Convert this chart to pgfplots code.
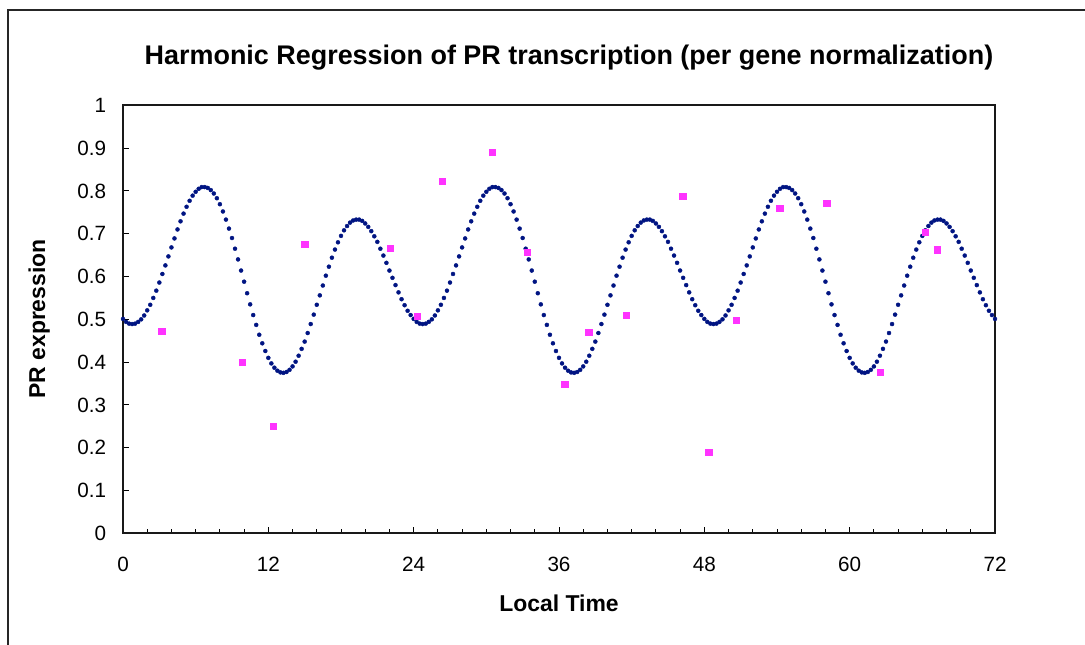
\documentclass[border=0pt]{standalone}
\usepackage{fontspec}
\setmainfont{Liberation Sans}
\usepackage{pgfplots}
\pgfplotsset{compat=1.18}
\definecolor{curveblue}{RGB}{0,20,130}
\definecolor{sqmag}{RGB}{255,51,255}
\begin{document}
\begin{tikzpicture}
\useasboundingbox (0,0) rectangle (813.75pt,483pt);
\draw[line width=0.9pt, black!85] (6pt,-5pt) -- (6pt,475.5pt) -- (820pt,475.5pt);
\begin{axis}[
  at={(92.25pt,83pt)}, anchor=south west,
  scale only axis, width=654pt, height=321pt,
  xmin=0, xmax=72, ymin=0, ymax=1,
  xtick={0,12,24,36,48,60,72},
  minor x tick num=5,
  ytick={0,0.1,0.2,0.3,0.4,0.5,0.6,0.7,0.8,0.9,1},
  yticklabels={0,0.1,0.2,0.3,0.4,0.5,0.6,0.7,0.8,0.9,1},
  tick align=inside, tick pos=left,
  major tick length=4.5pt, minor tick length=3pt,
  tick style={black, line width=0.7pt},
  axis line style={black!90, line width=1.3pt},
  /pgf/number format/assume math mode=true,
  ticklabel style={font=\fontsize{15.5}{18}\selectfont},
  yticklabel style={anchor=east, inner sep=0pt, xshift=-12.5pt},
  xticklabel style={anchor=north, inner sep=0pt, yshift=-17.5pt},
  clip=false,
]
\addplot[only marks, mark=*, mark size=1.5pt, mark options={draw=curveblue, fill=curveblue, line width=0.3pt}] coordinates {
(0,0.501) (0.25,0.494) (0.5,0.490) (0.75,0.489) (1,0.490) (1.25,0.494) (1.5,0.500) (1.75,0.509)
(2,0.521) (2.25,0.534) (2.5,0.550) (2.75,0.567) (3,0.586) (3.25,0.606) (3.5,0.626) (3.75,0.647)
(4,0.668) (4.25,0.689) (4.5,0.710) (4.75,0.729) (5,0.747) (5.25,0.763) (5.5,0.777) (5.75,0.789)
(6,0.798) (6.25,0.805) (6.5,0.809) (6.75,0.809) (7,0.807) (7.25,0.802) (7.5,0.794) (7.75,0.783)
(8,0.769) (8.25,0.752) (8.5,0.733) (8.75,0.712) (9,0.690) (9.25,0.665) (9.5,0.640) (9.75,0.614)
(10,0.588) (10.25,0.561) (10.5,0.535) (10.75,0.510) (11,0.487) (11.25,0.464) (11.5,0.444) (11.75,0.426)
(12,0.410) (12.25,0.397) (12.5,0.387) (12.75,0.380) (13,0.376) (13.25,0.375) (13.5,0.377) (13.75,0.382)
(14,0.390) (14.25,0.401) (14.5,0.415) (14.75,0.431) (15,0.448) (15.25,0.468) (15.5,0.489) (15.75,0.511)
(16,0.534) (16.25,0.556) (16.5,0.579) (16.75,0.602) (17,0.623) (17.25,0.644) (17.5,0.663) (17.75,0.680)
(18,0.695) (18.25,0.708) (18.5,0.718) (18.75,0.726) (19,0.731) (19.25,0.733) (19.5,0.733) (19.75,0.730)
(20,0.724) (20.25,0.716) (20.5,0.706) (20.75,0.694) (21,0.681) (21.25,0.665) (21.5,0.649) (21.75,0.632)
(22,0.614) (22.25,0.597) (22.5,0.580) (22.75,0.563) (23,0.547) (23.25,0.533) (23.5,0.520) (23.75,0.510)
(24,0.501) (24.25,0.494) (24.5,0.490) (24.75,0.489) (25,0.490) (25.25,0.494) (25.5,0.500) (25.75,0.509)
(26,0.521) (26.25,0.534) (26.5,0.550) (26.75,0.567) (27,0.586) (27.25,0.606) (27.5,0.626) (27.75,0.647)
(28,0.668) (28.25,0.689) (28.5,0.710) (28.75,0.729) (29,0.747) (29.25,0.763) (29.5,0.777) (29.75,0.789)
(30,0.798) (30.25,0.805) (30.5,0.809) (30.75,0.809) (31,0.807) (31.25,0.802) (31.5,0.794) (31.75,0.783)
(32,0.769) (32.25,0.752) (32.5,0.733) (32.75,0.712) (33,0.690) (33.25,0.665) (33.5,0.640) (33.75,0.614)
(34,0.588) (34.25,0.561) (34.5,0.535) (34.75,0.510) (35,0.487) (35.25,0.464) (35.5,0.444) (35.75,0.426)
(36,0.410) (36.25,0.397) (36.5,0.387) (36.75,0.380) (37,0.376) (37.25,0.375) (37.5,0.377) (37.75,0.382)
(38,0.390) (38.25,0.401) (38.5,0.415) (38.75,0.431) (39,0.448) (39.25,0.468) (39.5,0.489) (39.75,0.511)
(40,0.534) (40.25,0.556) (40.5,0.579) (40.75,0.602) (41,0.623) (41.25,0.644) (41.5,0.663) (41.75,0.680)
(42,0.695) (42.25,0.708) (42.5,0.718) (42.75,0.726) (43,0.731) (43.25,0.733) (43.5,0.733) (43.75,0.730)
(44,0.724) (44.25,0.716) (44.5,0.706) (44.75,0.694) (45,0.681) (45.25,0.665) (45.5,0.649) (45.75,0.632)
(46,0.614) (46.25,0.597) (46.5,0.580) (46.75,0.563) (47,0.547) (47.25,0.533) (47.5,0.520) (47.75,0.510)
(48,0.501) (48.25,0.494) (48.5,0.490) (48.75,0.489) (49,0.490) (49.25,0.494) (49.5,0.500) (49.75,0.509)
(50,0.521) (50.25,0.534) (50.5,0.550) (50.75,0.567) (51,0.586) (51.25,0.606) (51.5,0.626) (51.75,0.647)
(52,0.668) (52.25,0.689) (52.5,0.710) (52.75,0.729) (53,0.747) (53.25,0.763) (53.5,0.777) (53.75,0.789)
(54,0.798) (54.25,0.805) (54.5,0.809) (54.75,0.809) (55,0.807) (55.25,0.802) (55.5,0.794) (55.75,0.783)
(56,0.769) (56.25,0.752) (56.5,0.733) (56.75,0.712) (57,0.690) (57.25,0.665) (57.5,0.640) (57.75,0.614)
(58,0.588) (58.25,0.561) (58.5,0.535) (58.75,0.510) (59,0.487) (59.25,0.464) (59.5,0.444) (59.75,0.426)
(60,0.410) (60.25,0.397) (60.5,0.387) (60.75,0.380) (61,0.376) (61.25,0.375) (61.5,0.377) (61.75,0.382)
(62,0.390) (62.25,0.401) (62.5,0.415) (62.75,0.431) (63,0.448) (63.25,0.468) (63.5,0.489) (63.75,0.511)
(64,0.534) (64.25,0.556) (64.5,0.579) (64.75,0.602) (65,0.623) (65.25,0.644) (65.5,0.663) (65.75,0.680)
(66,0.695) (66.25,0.708) (66.5,0.718) (66.75,0.726) (67,0.731) (67.25,0.733) (67.5,0.733) (67.75,0.730)
(68,0.724) (68.25,0.716) (68.5,0.706) (68.75,0.694) (69,0.681) (69.25,0.665) (69.5,0.649) (69.75,0.632)
(70,0.614) (70.25,0.597) (70.5,0.580) (70.75,0.563) (71,0.547) (71.25,0.533) (71.5,0.520) (71.75,0.510)
(72,0.501)
};
\addplot[only marks, mark=square*, mark size=2.3pt, mark options={draw=sqmag, fill=sqmag, line width=0pt}] coordinates {
(3.22,0.472) (9.88,0.399) (12.41,0.249) (15.03,0.674) (22.1,0.665) (24.33,0.506)
(26.4,0.823) (30.53,0.889) (33.42,0.657) (36.5,0.347) (38.48,0.469) (41.59,0.508)
(46.24,0.788) (48.39,0.188) (50.62,0.498) (54.25,0.758) (58.13,0.770) (62.51,0.375)
(66.28,0.702) (67.22,0.662)
};
\end{axis}
\node[anchor=base, font=\bfseries\fontsize{20.2}{23}\selectfont] at (426.75pt,434.25pt) {Harmonic Regression of PR transcription (per gene normalization)};
\node[anchor=base, font=\bfseries\fontsize{17.2}{20}\selectfont] at (419.25pt,24.75pt) {Local Time};
\node[anchor=base, rotate=90, font=\bfseries\fontsize{17.2}{20}\selectfont] at (33.75pt,243.75pt) {PR expression};
\end{tikzpicture}
\end{document}
